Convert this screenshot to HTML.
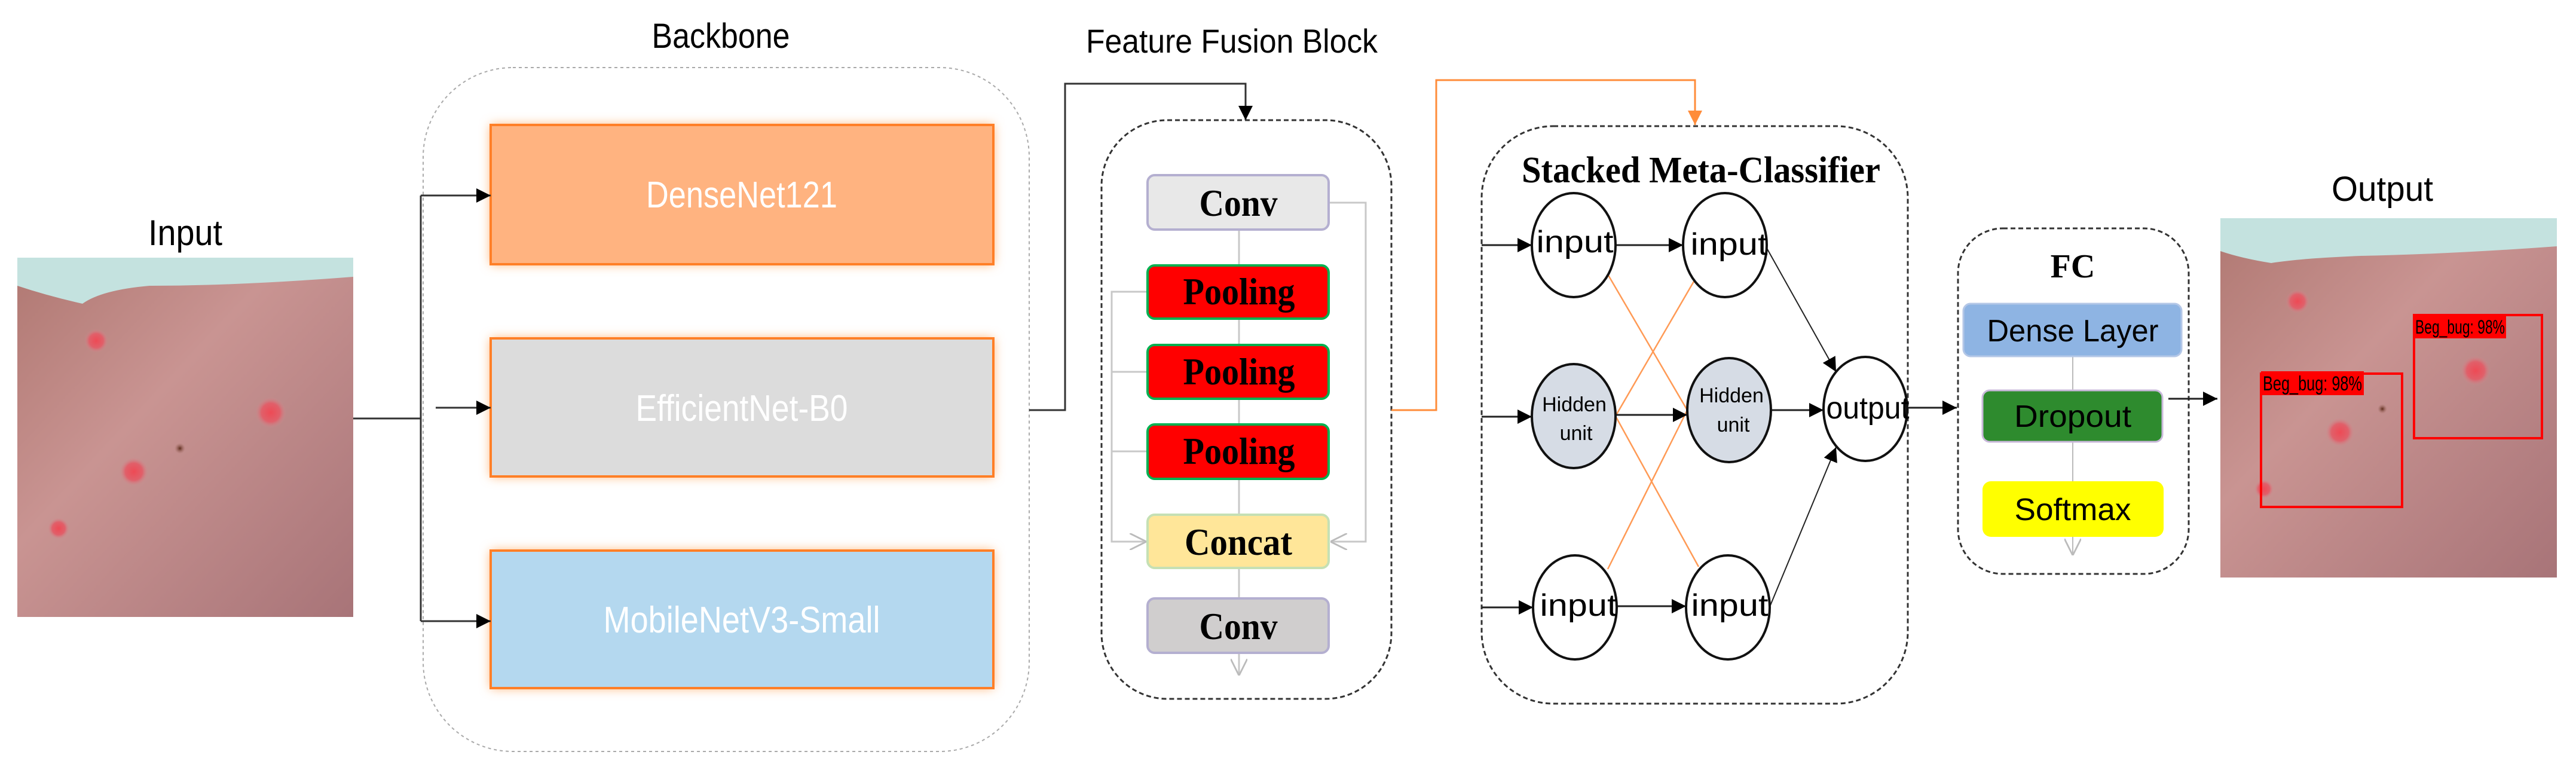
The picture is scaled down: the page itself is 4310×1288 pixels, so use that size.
<!DOCTYPE html>
<html><head><meta charset="utf-8"><style>html,body{margin:0;padding:0;background:#fff}svg{display:block}</style></head>
<body>
<svg width="4310" height="1288" viewBox="0 0 4310 1288" xmlns="http://www.w3.org/2000/svg">
<defs>
<marker id="ab2" viewBox="0 0 10 10" refX="10" refY="5" markerWidth="24" markerHeight="24" markerUnits="userSpaceOnUse" orient="auto"><path d="M0,0 L10,5 L0,10z" fill="#000"/></marker>
<marker id="ao" viewBox="0 0 10 10" refX="10" refY="5" markerWidth="24" markerHeight="24" markerUnits="userSpaceOnUse" orient="auto"><path d="M0,0 L10,5 L0,10z" fill="#FF8C3A"/></marker>
<marker id="ag" viewBox="0 0 10 10" refX="10" refY="5" markerWidth="28" markerHeight="28" markerUnits="userSpaceOnUse" orient="auto"><path d="M0,0 L10,5 L0,10" fill="none" stroke="#bbb" stroke-width="1"/></marker>
<filter id="glow" x="-10%" y="-20%" width="120%" height="140%"><feGaussianBlur stdDeviation="9"/></filter>
<linearGradient id="skin" x1="0" y1="0" x2="1" y2="1"><stop offset="0" stop-color="#b07872"/><stop offset="0.4" stop-color="#c99492"/><stop offset="1" stop-color="#a87478"/></linearGradient>
<radialGradient id="spot"><stop offset="0" stop-color="#ee4a55"/><stop offset="0.6" stop-color="#e0606a"/><stop offset="1" stop-color="#d08a8e" stop-opacity="0"/></radialGradient>
<radialGradient id="dk"><stop offset="0" stop-color="#5a2a1a"/><stop offset="1" stop-color="#a06a60" stop-opacity="0"/></radialGradient>
</defs>

<!-- Input photo -->
<text x="310" y="410" font-family="Liberation Sans, sans-serif" font-size="60" text-anchor="middle" textLength="124" lengthAdjust="spacingAndGlyphs">Input</text>
<rect x="29" y="431" width="562" height="601" fill="url(#skin)"/>
<path d="M29,431 H591 V463 Q400,478 250,478 Q170,485 138,508 Q80,495 29,478 Z" fill="#c4e2df"/>
<circle cx="161" cy="570" r="20" fill="url(#spot)"/>
<circle cx="453" cy="690" r="26" fill="url(#spot)"/>
<circle cx="224" cy="789" r="24" fill="url(#spot)"/>
<circle cx="301" cy="750" r="9" fill="url(#dk)"/>
<circle cx="98" cy="884" r="18" fill="url(#spot)"/>

<!-- Backbone -->
<text x="1206" y="80" font-family="Liberation Sans, sans-serif" font-size="58" text-anchor="middle" textLength="231" lengthAdjust="spacingAndGlyphs">Backbone</text>
<rect x="708" y="113" width="1014" height="1144" rx="150" fill="none" stroke="#aaa" stroke-width="2" stroke-dasharray="5,5"/>
<g filter="url(#glow)"><rect x="821" y="209" width="841" height="233" fill="#ffb070"/><rect x="821" y="566" width="841" height="231" fill="#ffb070"/><rect x="821" y="921" width="841" height="230" fill="#ffb070"/></g>
<rect x="821" y="209" width="841" height="233" fill="#FFB380" stroke="#FF7F27" stroke-width="4"/>
<rect x="821" y="566" width="841" height="231" fill="#DCDCDC" stroke="#FF7F27" stroke-width="4"/>
<rect x="821" y="921" width="841" height="230" fill="#B4D8EF" stroke="#FF7F27" stroke-width="4"/>
<g font-family="Liberation Sans, sans-serif" font-size="62" fill="#fff" text-anchor="middle">
<text x="1241" y="347" textLength="320" lengthAdjust="spacingAndGlyphs">DenseNet121</text>
<text x="1241" y="704" textLength="355" lengthAdjust="spacingAndGlyphs">EfficientNet-B0</text>
<text x="1241" y="1058" textLength="463" lengthAdjust="spacingAndGlyphs">MobileNetV3-Small</text>
</g>
<g stroke="#333" stroke-width="3" fill="none">
<path d="M591,700 H704"/>
<path d="M704,327 V1039"/>
<path d="M704,327 H821" marker-end="url(#ab2)"/>
<path d="M704,1039 H821" marker-end="url(#ab2)"/>
<path d="M729,682 H821" marker-end="url(#ab2)"/>
<path d="M1722,686 H1782 V140 H2084 V201" marker-end="url(#ab2)"/>
</g>

<!-- Feature Fusion -->
<text x="2061" y="88" font-family="Liberation Sans, sans-serif" font-size="56" text-anchor="middle" textLength="488" lengthAdjust="spacingAndGlyphs">Feature Fusion Block</text>
<rect x="1843" y="201" width="485" height="968" rx="110" fill="none" stroke="#333" stroke-width="3" stroke-dasharray="8,5"/>
<g stroke="#c8c8c8" stroke-width="3" fill="none">
<path d="M2073,384 V1130" marker-end="url(#ag)"/>
<path d="M1920,488 H1860 V906 H1918" marker-end="url(#ag)"/>
<path d="M1860,622 H1920 M1860,755 H1920"/>
<path d="M2223,339 H2285 V906 H2226" marker-end="url(#ag)"/>
</g>
<rect x="1920" y="293" width="303" height="91" rx="12" fill="#E8E8E8" stroke="#B4AFD0" stroke-width="4"/>
<rect x="1920" y="444" width="303" height="89" rx="12" fill="#FF0000" stroke="#00B050" stroke-width="4"/>
<rect x="1920" y="577" width="303" height="90" rx="12" fill="#FF0000" stroke="#00B050" stroke-width="4"/>
<rect x="1920" y="710" width="303" height="91" rx="12" fill="#FF0000" stroke="#00B050" stroke-width="4"/>
<rect x="1920" y="861" width="303" height="89" rx="12" fill="#FFE699" stroke="#C5E0B4" stroke-width="4"/>
<rect x="1920" y="1001" width="303" height="91" rx="12" fill="#D0CECE" stroke="#B4AFD0" stroke-width="4"/>
<g font-family="Liberation Serif, serif" font-weight="bold" font-size="64" text-anchor="middle">
<text x="2072" y="361" textLength="131" lengthAdjust="spacingAndGlyphs">Conv</text>
<text x="2073" y="509" textLength="187" lengthAdjust="spacingAndGlyphs">Pooling</text>
<text x="2073" y="643" textLength="187" lengthAdjust="spacingAndGlyphs">Pooling</text>
<text x="2073" y="776" textLength="187" lengthAdjust="spacingAndGlyphs">Pooling</text>
<text x="2072" y="928" textLength="180" lengthAdjust="spacingAndGlyphs">Concat</text>
<text x="2072" y="1069" textLength="131" lengthAdjust="spacingAndGlyphs">Conv</text>
</g>
<path d="M2328,686 H2403 V134 H2836 V209" fill="none" stroke="#FF8C3A" stroke-width="3" marker-end="url(#ao)"/>

<!-- Meta classifier -->
<rect x="2479" y="211" width="713" height="966" rx="120" fill="none" stroke="#333" stroke-width="3" stroke-dasharray="8,5"/>
<text x="2846" y="305" font-family="Liberation Serif, serif" font-weight="bold" font-size="62" text-anchor="middle" textLength="600" lengthAdjust="spacingAndGlyphs">Stacked Meta-Classifier</text>
<g stroke="#FF9A55" stroke-width="2.5">
<line x1="2686" y1="452" x2="2823" y2="686"/>
<line x1="2842" y1="457" x2="2703" y2="696"/>
<line x1="2703" y1="696" x2="2842" y2="948"/>
<line x1="2690" y1="952" x2="2823" y2="686"/>
</g>
<g stroke="#222" stroke-width="3" fill="none">
<path d="M2479,410 H2563" marker-end="url(#ab2)"/>
<path d="M2479,697 H2563" marker-end="url(#ab2)"/>
<path d="M2479,1016 H2565" marker-end="url(#ab2)"/>
<path d="M2703,410 H2816" marker-end="url(#ab2)"/>
<path d="M2703,694 H2823" marker-end="url(#ab2)"/>
<path d="M2705,1014 H2821" marker-end="url(#ab2)"/>
<path d="M2963,686 H3051" marker-end="url(#ab2)"/>
<path d="M2956,415 L3072,622" marker-end="url(#ab2)" stroke-width="2"/>
<path d="M2961,1015 L3072,748" marker-end="url(#ab2)" stroke-width="2"/>
<path d="M3191,682 H3274" marker-end="url(#ab2)"/>
</g>
<g stroke="#111" stroke-width="4">
<ellipse cx="2633" cy="410" rx="70" ry="87" fill="#fff"/>
<ellipse cx="2886" cy="410" rx="70" ry="87" fill="#fff"/>
<ellipse cx="2633" cy="696" rx="70" ry="87" fill="#D6DCE5"/>
<ellipse cx="2893" cy="686" rx="70" ry="87" fill="#D6DCE5"/>
<ellipse cx="2635" cy="1016" rx="70" ry="87" fill="#fff"/>
<ellipse cx="2891" cy="1016" rx="70" ry="87" fill="#fff"/>
<ellipse cx="3121" cy="684" rx="70" ry="87" fill="#fff"/>
</g>
<g font-family="Liberation Sans, sans-serif" font-size="52" text-anchor="middle">
<text x="2635" y="422" textLength="129" lengthAdjust="spacingAndGlyphs">input</text>
<text x="2893" y="426" textLength="129" lengthAdjust="spacingAndGlyphs">input</text>
<text x="2641" y="1030" textLength="129" lengthAdjust="spacingAndGlyphs">input</text>
<text x="2894" y="1030" textLength="129" lengthAdjust="spacingAndGlyphs">input</text>
<text x="3125" y="700" textLength="139" lengthAdjust="spacingAndGlyphs">output</text>
</g>
<g font-family="Liberation Sans, sans-serif" font-size="34" text-anchor="middle">
<text x="2634" y="688">Hidden</text><text x="2637" y="736">unit</text>
<text x="2897" y="673">Hidden</text><text x="2900" y="722">unit</text>
</g>

<!-- FC -->
<rect x="3276" y="382" width="386" height="578" rx="75" fill="none" stroke="#333" stroke-width="3" stroke-dasharray="8,5"/>
<text x="3468" y="464" font-family="Liberation Serif, serif" font-weight="bold" font-size="56" text-anchor="middle">FC</text>
<path d="M3468,596 V929" stroke="#bbb" stroke-width="2" fill="none" marker-end="url(#ag)"/>
<rect x="3285" y="508" width="365" height="88" rx="12" fill="#8EB4E3" stroke="#B4C7E7" stroke-width="3"/>
<rect x="3317" y="653" width="301" height="86" rx="12" fill="#2E8B2E" stroke="#C9B8DA" stroke-width="3"/>
<rect x="3317" y="805" width="303" height="93" rx="14" fill="#FFFF00"/>
<g font-family="Liberation Sans, sans-serif" font-size="52" text-anchor="middle">
<text x="3468" y="571" textLength="287" lengthAdjust="spacingAndGlyphs">Dense Layer</text>
<text x="3468" y="714" textLength="196" lengthAdjust="spacingAndGlyphs">Dropout</text>
<text x="3468" y="870" textLength="195" lengthAdjust="spacingAndGlyphs">Softmax</text>
</g>
<path d="M3628,667 H3710" stroke="#222" stroke-width="3" marker-end="url(#ab2)"/>

<!-- Output -->
<text x="3986" y="336" font-family="Liberation Sans, sans-serif" font-size="58" text-anchor="middle" textLength="170" lengthAdjust="spacingAndGlyphs">Output</text>
<rect x="3715" y="365" width="563" height="601" fill="url(#skin)"/>
<path d="M3715,365 H4278 V412 Q4100,425 3950,428 Q3850,432 3800,440 Q3750,432 3715,420 Z" fill="#c4e2df"/>
<circle cx="3844" cy="504" r="20" fill="url(#spot)"/>
<circle cx="3915" cy="723" r="24" fill="url(#spot)"/>
<circle cx="4142" cy="620" r="25" fill="url(#spot)"/>
<circle cx="3986" cy="684" r="8" fill="url(#dk)"/>
<circle cx="3788" cy="818" r="16" fill="url(#spot)"/>
<rect x="3783" y="625" width="236" height="223" fill="none" stroke="#FF0000" stroke-width="4"/>
<rect x="3783" y="621" width="172" height="40" fill="#FF0000"/>
<text x="3786" y="653" font-family="Liberation Sans, sans-serif" font-size="34" textLength="166" lengthAdjust="spacingAndGlyphs">Beg_bug: 98%</text>
<rect x="4039" y="527" width="214" height="206" fill="none" stroke="#FF0000" stroke-width="4"/>
<rect x="4039" y="527" width="154" height="39" fill="#FF0000"/>
<text x="4041" y="558" font-family="Liberation Sans, sans-serif" font-size="32" textLength="150" lengthAdjust="spacingAndGlyphs">Beg_bug: 98%</text>
</svg>
</body></html>
